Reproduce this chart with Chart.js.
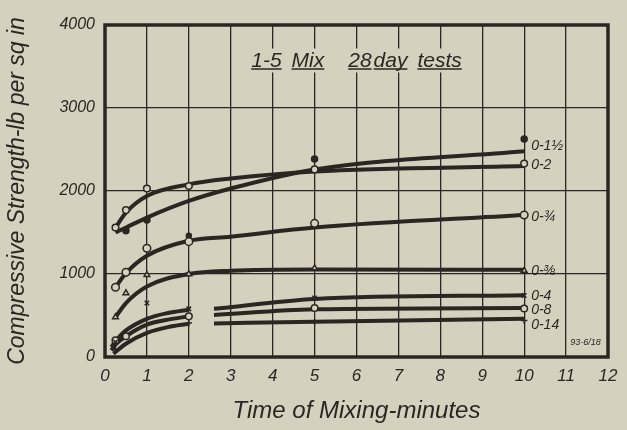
<!DOCTYPE html>
<html>
<head>
<meta charset="utf-8">
<script src="https://cdn.jsdelivr.net/npm/chart.js@4"></script>
<style>
html,body{margin:0;padding:0;background:#d6d0bf;}
#wrap{width:627px;height:430px;}
</style>
</head>
<body>
<div id="wrap"><canvas id="c" width="627" height="430"></canvas></div>
<script>
// ---- data ----
const seriesNames = ["0-1½", "0-2", "0-¾", "0-⅜", "0-4", "0-8", "0-14"];
const xTicks = [0,1,2,3,4,5,6,7,8,9,10,11,12];
const yTicks = [0,1000,2000,3000,4000];
const titleWords = ["1-5", "Mix", "28", "day", "tests"];
const figureNote = "93-6/18";

// fitted curves (x minutes, y lb/sq in); null = break in the drawn line
const curve15 = [[0.25,1500],[0.5,1560],[1,1680],[2,1880],[3,2030],[5,2260],[10,2480]];
const curve2  = [[0.25,1560],[0.5,1740],[1,1940],[2,2080],[3,2150],[5,2235],[10,2300]];
const curve34 = [[0.25,840],[0.5,1010],[1,1220],[2,1400],[3,1450],[5,1560],[10,1710]];
const curve38 = [[0.25,480],[0.5,650],[1,850],[2,1000],[3,1040],[5,1055],[10,1050]];
const curve4  = [[0.15,120],[0.25,190],[0.5,320],[1,460],[1.5,530],[2,570],[2.3,null],[2.6,580],[5,700],[10,745]];
const curve8  = [[0.15,80],[0.25,150],[0.5,250],[1,390],[1.5,450],[2,490],[2.3,null],[2.6,505],[5,575],[10,590]];
const curve14 = [[0.2,40],[0.5,160],[1,290],[1.5,360],[2,400],[2.3,null],[2.6,405],[5,425],[10,460]];

// test points
const pts15 = [[0.5,1520],[1,1650],[5,2385],[10,2626]];
const pts2  = [[0.25,1560],[0.5,1770],[1,2030],[2,2060],[5,2260],[10,2330]];
const pts34 = [[0.25,840],[0.5,1020],[1,1310],[2,1390],[5,1610],[10,1710]];
const pts34b = [[2,1460]];
const pts38 = [[0.25,480],[0.5,770],[1,990],[2,1000],[5,1070],[10,1040]];
const pts4  = [[0.25,180],[1,650],[2,580],[5,710],[10,740]];
const pts8  = [[0.25,200],[0.5,250],[2,490],[5,590],[10,585]];
const pts14 = [[0.25,90],[2,410],[5,420],[10,440]];

// label anchor values at the right end (value units)
const labelVals = [2540, 2310, 1690, 1030, 730, 560, 380];

const INK = "#2b2622";
const PAPER = "#d6d0bf";
const FONT = "'Liberation Sans', 'DejaVu Sans', sans-serif";

const toXY = arr => arr.map(p => ({x:p[0], y:p[1]}));

function curveDS(arr){
  return {type:'scatter', data: toXY(arr), showLine:true, borderColor:INK, borderWidth:4,
          pointRadius:0, tension:0.4, cubicInterpolationMode:'monotone', spanGaps:false, order:2};
}
function ptsDS(arr, style, filled, r){
  return {type:'scatter', data: toXY(arr), showLine:false, pointStyle:style,
          pointRadius:r||3, pointBorderColor:INK, pointBorderWidth:1.5,
          pointBackgroundColor: filled ? INK : PAPER, order:1};
}

const datasets = [
  curveDS(curve15), curveDS(curve2), curveDS(curve34), curveDS(curve38),
  curveDS(curve4), curveDS(curve8), curveDS(curve14),
  ptsDS(pts15,'circle',true,3),
  ptsDS(pts2,'circle',false,3.3),
  ptsDS(pts34,'circle',false,3.8),
  ptsDS(pts34b,'circle',true,2.5),
  ptsDS(pts38,'triangle',false,3.3),
  ptsDS(pts4,'crossRot',false,3.2),
  ptsDS(pts8,'circle',false,3.3),
  ptsDS(pts14,'cross',false,3.2)
];

const bgPlugin = {
  id:'bg',
  beforeDraw(chart){
    const c = chart.ctx;
    c.save(); c.fillStyle = PAPER; c.fillRect(0,0,chart.width,chart.height); c.restore();
  }
};

const decoPlugin = {
  id:'deco',
  afterDatasetsDraw(chart){
    const c = chart.ctx, a = chart.chartArea;
    const xs = chart.scales.x, ys = chart.scales.y;
    c.save();
    // frame
    c.strokeStyle = INK; c.lineWidth = 3.5;
    c.strokeRect(a.left, a.top, a.right - a.left, a.bottom - a.top);
    // title with paper behind, underlined words
    c.font = "italic 21px " + FONT;
    c.textBaseline = 'alphabetic';
    const gaps = [10, 24, 2, 10];
    let widths = titleWords.map(w => c.measureText(w).width);
    let total = widths.reduce((s,v)=>s+v,0) + gaps.reduce((s,v)=>s+v,0);
    let x0 = xs.getPixelForValue(6.0) - total/2;
    const base = ys.getPixelForValue(3500);
    c.fillStyle = PAPER;
    c.fillRect(x0 - 6, base - 18, total + 12, 24);
    c.fillStyle = INK; c.strokeStyle = INK; c.lineWidth = 1.5;
    let x = x0;
    titleWords.forEach((w,i) => {
      c.fillText(w, x, base);
      c.beginPath(); c.moveTo(x, base + 2.5); c.lineTo(x + widths[i], base + 2.5); c.stroke();
      x += widths[i] + (gaps[i] || 0);
    });
    // series labels at right end
    c.font = "italic 14px " + FONT;
    c.textBaseline = 'middle';
    c.fillStyle = INK;
    const lx = xs.getPixelForValue(10) + 7;
    seriesNames.forEach((n,i) => {
      c.fillText(n, lx, ys.getPixelForValue(labelVals[i]));
    });
    // figure note
    c.font = "italic 9px " + FONT;
    c.fillText(figureNote, xs.getPixelForValue(11.1), ys.getPixelForValue(170));
    c.restore();
  }
};

new Chart(document.getElementById('c'), {
  type:'scatter',
  data:{datasets},
  plugins:[bgPlugin, decoPlugin],
  options:{
    responsive:false, animation:false,
    layout:{padding:{left:0, top:25, right:19, bottom:0}},
    plugins:{legend:{display:false}, tooltip:{enabled:false}},
    scales:{
      x:{
        type:'linear', min:0, max:12,
        afterBuildTicks(s){ s.ticks = xTicks.map(v=>({value:v})); },
        afterFit(s){ s.height = 73; },
        grid:{color:INK, lineWidth:1.3, drawTicks:false},
        border:{display:false},
        ticks:{color:INK, padding:9, font:{family:FONT, size:17, style:'italic'}, maxRotation:0,
               callback:v => String(v)},
        title:{display:true, text:'Time of Mixing-minutes', color:INK,
               font:{family:FONT, size:24, style:'italic'}, padding:{top:8}}
      },
      y:{
        type:'linear', min:0, max:4000,
        afterBuildTicks(s){ s.ticks = yTicks.map(v=>({value:v})); },
        afterFit(s){ s.width = 105; },
        grid:{color:INK, lineWidth:1.3, drawTicks:false},
        border:{display:false},
        ticks:{color:INK, padding:10, font:{family:FONT, size:16, style:'italic'},
               callback:v => String(v)},
        title:{display:true, text:'Compressive Strength-lb per sq in', color:INK,
               font:{family:FONT, size:23, style:'italic'}, padding:{bottom:6}}
      }
    }
  }
});
</script>
</body>
</html>
